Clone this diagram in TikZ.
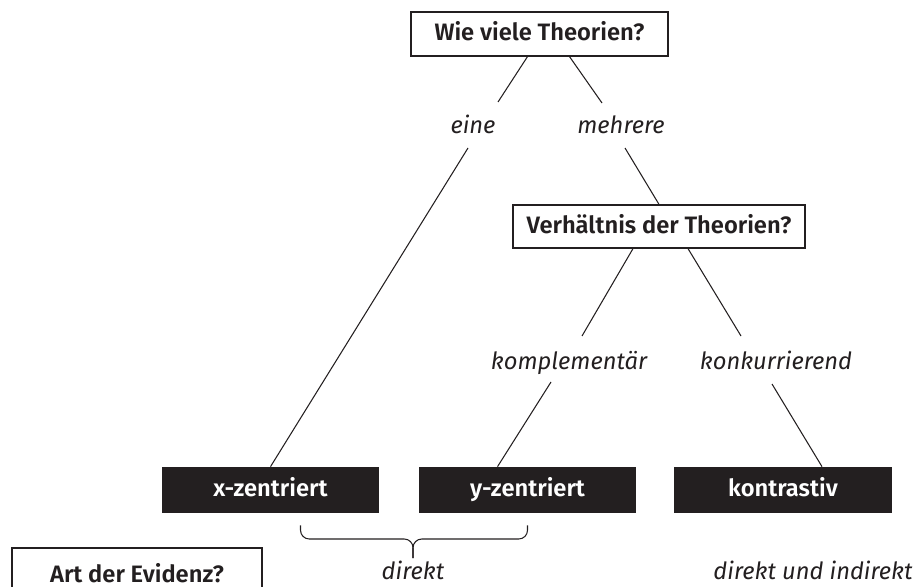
\documentclass[tikz,border=0pt]{standalone}
\usepackage{fontspec}
\setmainfont{Fira Sans}[BoldFont={Fira Sans SemiBold}]
\usetikzlibrary{calc}
\definecolor{ink}{HTML}{231F20}
\begin{document}
\begin{tikzpicture}[x=0.02cm, y=-0.02cm,
    frage/.style={draw=ink, line width=0.7pt, fill=white, text=ink, font=\fontsize{13.5}{16}\selectfont\bfseries,
        text height=0.75em, text depth=0pt, inner sep=0pt},
    schwarz/.style={fill=ink, text=white, font=\fontsize{13.5}{16}\selectfont\bfseries,
        minimum width=4.36cm, minimum height=0.92cm, text height=0.75em, text depth=0pt, inner sep=0pt},
    zweig/.style={anchor=base, text=ink, inner sep=0pt, font=\fontsize{13.5}{16}\selectfont\itshape},
    ast/.style={draw=ink, line width=0.6pt}]
    \clip (0, 0) rectangle (915, 587);

    % Draw the question boxes
    \node[frage, minimum width=5.14cm, minimum height=0.88cm] (wieviele) at (539.5, 34) {Wie viele Theorien?};
    \node[frage, minimum width=5.84cm, minimum height=0.86cm] (verh) at (659, 226.5) {Verhältnis der Theorien?};
    \node[frage, minimum width=5.0cm, minimum height=1.1cm] (evidenz) at (137, 575.5) {Art der Evidenz?};

    % Labels for the branches
    \node[zweig] (eine) at (473, 134) {eine};
    \node[zweig] (mehrere) at (621, 134) {mehrere};
    \node[zweig] (kompl) at (569, 369) {komplementär};
    \node[zweig] (konk) at (776, 369) {konkurrierend};

    % Draw the black result boxes
    \node[schwarz] (xz) at (270.5, 490) {x-zentriert};
    \node[schwarz] (yz) at (527.5, 490) {y-zentriert};
    \node[schwarz] (kontr) at (783, 490) {kontrastiv};

    % Draw the branches
    \draw[ast] ($(wieviele.south)+(-12, 0)$) -- ($(eine.base)+(25, -32)$);
    \draw[ast] ($(wieviele.south)+(30, 0)$) -- ($(mehrere.base)+(-19, -31)$);
    \draw[ast] ($(eine.base)+(-5, 14)$) -- (xz.north);
    \draw[ast] ($(mehrere.base)+(4, 14)$) -- (verh.north);
    \draw[ast] ($(verh.south)+(-26, 0)$) -- ($(kompl.base)+(13, -33)$);
    \draw[ast] ($(verh.south)+(29, 0)$) -- ($(konk.base)+(-35, -33)$);
    \draw[ast] ($(kompl.base)+(-18, 13)$) -- ($(yz.north)+(-30, 0)$);
    \draw[ast] ($(konk.base)+(-4, 15)$) -- ($(kontr.north)+(39, 0)$);

    % Brace and kind of evidence
    \coordinate (kl) at ($(xz.south)+(30, 12)$);
    \coordinate (kr) at ($(yz.south)+(0, 12)$);
    \coordinate (km) at (413, 539);
    \coordinate (ks) at (413, 558);
    \draw[ast, rounded corners=5] (kl) |- (km) -- (ks);
    \draw[ast, rounded corners=5] (kr) |- (km) -- (ks);
    \node[zweig] (direkt) at (413, 579) {direkt};
    \node[zweig] (beides) at (813, 579) {direkt und indirekt};
\end{tikzpicture}
\end{document}
